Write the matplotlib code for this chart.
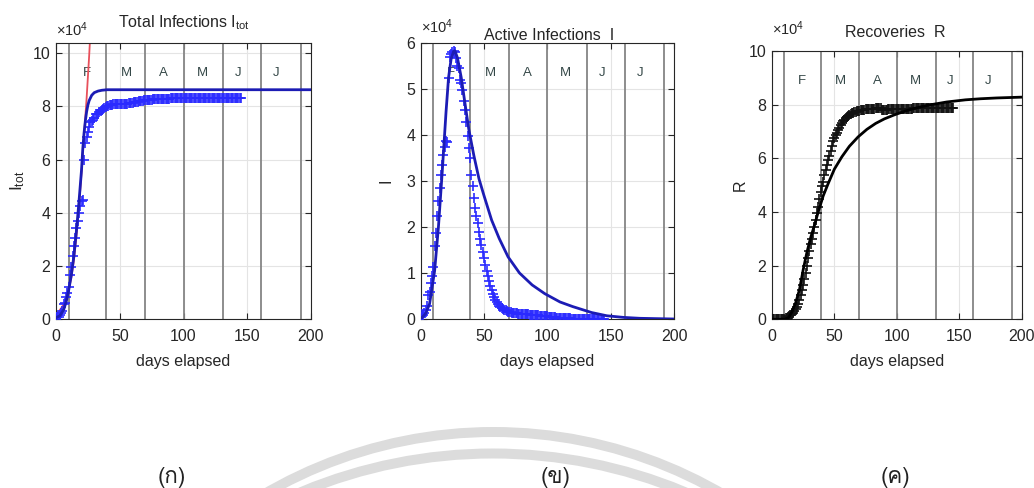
import matplotlib
matplotlib.use("Agg")
import matplotlib.pyplot as plt
import matplotlib.transforms as mtrans
from matplotlib import font_manager as fm
from matplotlib.ft2font import FT2Font
from matplotlib.patches import Circle
import numpy as np

# ---------------- data (units of 1e4) ----------------
tot_obs = [0.055, 0.064, 0.092, 0.141, 0.208, 0.288, 0.551, 0.609, 0.814, 0.980,
           1.189, 1.663, 1.972, 2.371, 2.744, 3.059, 3.411, 3.681, 3.983, 4.235,
           4.439, 4.476, 5.990, 6.636, 6.841, 7.051, 7.243, 7.421, 7.462, 7.508,
           7.555, 7.700, 7.702, 7.724, 7.775, 7.817, 7.860, 7.893, 7.936, 7.993,
           8.014, 8.026, 8.039, 8.054, 8.069, 8.077, 8.082, 8.086, 8.089, 8.092,
           8.093, 8.095, 8.098, 8.100, 8.103, 8.106, 8.110, 8.116, 8.125, 8.131,
           8.144, 8.150, 8.159, 8.166, 8.178, 8.190, 8.200, 8.212, 8.220, 8.228,
           8.236, 8.243, 8.250, 8.254, 8.258, 8.262, 8.264, 8.267, 8.270, 8.272,
           8.274, 8.276, 8.278, 8.280, 8.282, 8.284, 8.290, 8.293, 8.295, 8.297,
           8.300, 8.301, 8.302, 8.302, 8.303, 8.303, 8.304, 8.304, 8.305, 8.305,
           8.306, 8.306, 8.307, 8.307, 8.308, 8.308, 8.309, 8.309, 8.310, 8.310,
           8.311, 8.311, 8.312, 8.312, 8.313, 8.313, 8.314, 8.314, 8.315, 8.315,
           8.316, 8.316, 8.317, 8.317, 8.318, 8.318, 8.319, 8.319, 8.320, 8.320,
           8.321, 8.321, 8.322, 8.322, 8.323, 8.323, 8.324, 8.325, 8.326, 8.327,
           8.328, 8.329, 8.330, 8.331, 8.332, 8.333]
tot_model_days = [0, 3, 6, 8, 10, 12, 14, 16, 18, 19, 20, 21, 22, 23, 24, 25, 26,
                  28, 30, 33, 36, 40, 50, 200]
tot_model = [0.05, 0.12, 0.35, 0.65, 1.1, 1.65, 2.35, 3.3, 4.4, 5.0, 5.6, 6.4, 7.0,
             7.45, 7.8, 8.05, 8.22, 8.42, 8.52, 8.58, 8.61, 8.63, 8.63, 8.63]
exp_days = [0, 2, 4, 6, 8, 10, 12, 14, 16, 18, 20, 22, 24, 25, 26, 27]
exp_fit = [0.21, 0.28, 0.40, 0.55, 0.78, 1.10, 1.55, 2.20, 3.10, 4.20, 5.50, 6.90,
           8.30, 9.10, 9.90, 10.80]

act_obs = [0.050, 0.060, 0.086, 0.133, 0.197, 0.274, 0.528, 0.583, 0.784, 0.938,
           1.136, 1.581, 1.868, 2.237, 2.576, 2.848, 3.139, 3.341, 3.571, 3.743,
           3.864, 3.856, 5.231, 5.690, 5.759, 5.809, 5.820, 5.814, 5.665, 5.494,
           5.460, 5.205, 5.138, 4.976, 4.745, 4.536, 4.292, 3.981, 3.720, 3.490,
           3.140, 2.890, 2.640, 2.420, 2.250, 2.080, 1.900, 1.740, 1.600, 1.450,
           1.320, 1.180, 1.050, 0.930, 0.820, 0.720, 0.630, 0.550, 0.480, 0.420,
           0.370, 0.330, 0.290, 0.260, 0.240, 0.220, 0.200, 0.185, 0.170, 0.160,
           0.150, 0.145, 0.140, 0.135, 0.130, 0.125, 0.120, 0.118, 0.115, 0.112,
           0.110, 0.108, 0.105, 0.103, 0.100, 0.098, 0.095, 0.092, 0.090, 0.088,
           0.085, 0.082, 0.080, 0.077, 0.075, 0.072, 0.070, 0.067, 0.064, 0.060,
           0.056, 0.052, 0.048, 0.044, 0.040, 0.036, 0.033, 0.030, 0.027, 0.024,
           0.022, 0.020, 0.018, 0.016, 0.015, 0.014, 0.013, 0.012, 0.011, 0.010,
           0.010, 0.009, 0.009, 0.008, 0.008, 0.008, 0.007, 0.007, 0.007, 0.007,
           0.006, 0.006, 0.006, 0.006, 0.006, 0.005, 0.005, 0.005, 0.005, 0.005,
           0.005, 0.004, 0.004, 0.004, 0.004, 0.004]
act_model_days = [0, 4, 7, 11, 14, 17, 20, 22, 24, 26, 27, 29, 32, 35, 38, 42, 46,
                  50, 56, 62, 69, 78, 88, 98, 110, 120, 135, 147, 160, 173, 200]
act_model = [0.0, 0.12, 0.33, 1.05, 2.0, 3.2, 4.5, 5.25, 5.65, 5.82, 5.83, 5.68,
             5.25, 4.68, 4.12, 3.55, 3.05, 2.68, 2.15, 1.75, 1.35, 1.0, 0.74, 0.55,
             0.37, 0.27, 0.14, 0.07, 0.035, 0.015, 0.0]

rec_obs = [0.003, 0.003, 0.004, 0.004, 0.005, 0.006, 0.010, 0.012, 0.014, 0.021,
           0.028, 0.046, 0.061, 0.084, 0.112, 0.148, 0.200, 0.240, 0.300, 0.380,
           0.464, 0.560, 0.720, 0.900, 1.080, 1.280, 1.500, 1.720, 2.000, 2.300,
           2.550, 2.800, 3.000, 3.200, 3.450, 3.700, 3.950, 4.200, 4.500, 4.750,
           4.950, 5.100, 5.360, 5.560, 5.740, 5.920, 6.100, 6.280, 6.460, 6.640,
           6.760, 6.860, 6.960, 7.050, 7.140, 7.230, 7.310, 7.380, 7.440, 7.490,
           7.540, 7.580, 7.620, 7.650, 7.680, 7.700, 7.720, 7.740, 7.760, 7.770,
           7.780, 7.790, 7.800, 7.810, 7.815, 7.820, 7.825, 7.830, 7.835, 7.840,
           7.845, 7.850, 7.855, 7.860, 7.860, 7.865, 7.870, 7.870, 7.800, 7.800,
           7.810, 7.810, 7.810, 7.820, 7.820, 7.820, 7.820, 7.830, 7.830, 7.830,
           7.830, 7.830, 7.840, 7.840, 7.840, 7.840, 7.840, 7.850, 7.850, 7.850,
           7.850, 7.850, 7.850, 7.860, 7.860, 7.860, 7.860, 7.860, 7.860, 7.860,
           7.870, 7.870, 7.870, 7.870, 7.870, 7.870, 7.870, 7.870, 7.870, 7.870,
           7.870, 7.870, 7.870, 7.870, 7.880, 7.880, 7.880, 7.880, 7.880, 7.880,
           7.880, 7.880, 7.880, 7.880, 7.880, 7.880]
rec_model_days = [0, 10, 13, 16, 19, 22, 25, 28, 31, 34, 37, 41, 45, 50, 56, 62, 69,
                  76, 83, 90, 98, 106, 113, 125, 140, 155, 167, 180, 200]
rec_model = [0.0, 0.0, 0.05, 0.28, 0.62, 1.1, 1.85, 2.5, 3.05, 3.5, 4.0, 4.6, 5.06,
             5.6, 6.06, 6.45, 6.8, 7.08, 7.3, 7.47, 7.62, 7.75, 7.85, 7.98, 8.1,
             8.18, 8.22, 8.25, 8.28]

month_starts = [10, 39, 70, 100, 131, 161, 192]
month_labels = ["F", "M", "A", "M", "J", "J"]
month_label_x = [24, 55, 84.5, 114.5, 143, 173]
x_ticks = [0, 50, 100, 150, 200]
panel_tags = ["(ก)", "(ข)", "(ค)"]

# ---------------- fonts ----------------
names = {f.name for f in fm.fontManager.ttflist}
if "Liberation Sans Narrow" in names:
    BASE = "Liberation Sans Narrow"
    FS = 14
else:
    BASE = "Liberation Sans"
    FS = 11.5
plt.rcParams["font.family"] = [BASE, "DejaVu Sans"]
plt.rcParams["mathtext.fontset"] = "custom"
plt.rcParams["mathtext.rm"] = BASE
plt.rcParams["mathtext.it"] = BASE


def find_thai():
    for f in fm.fontManager.ttflist:
        try:
            if 0x0E01 in FT2Font(f.fname).get_charmap():
                return f.name
        except Exception:
            pass
    return None


thai = find_thai()
thai_family = ([thai] if thai else []) + ["DejaVu Sans"]

W, H = 1034, 488
fig = plt.figure(figsize=(W / 100, H / 100), dpi=100)

# background watermark arcs
bg = fig.add_axes([0, 0, 1, 1], zorder=-5)
bg.set_xlim(0, W)
bg.set_ylim(H, 0)
bg.axis("off")
bg.add_patch(Circle((493.5, 886), 454, fill=False, ec="#dcdcdc", lw=7.2))
bg.add_patch(Circle((493, 950.5), 497, fill=False, ec="#dcdcdc", lw=7.2))
for tag, tx in zip(panel_tags, [172, 556, 895]):
    bg.text(tx, 478, tag, ha="center", va="center", fontsize=16,
            family=thai_family, color="#222222")


def px_axes(l, t, r, b):
    return fig.add_axes([l / W, (H - b) / H, (r - l) / W, (b - t) / H])


TXT = "#262626"


def setup(ax, ylim, yticks, top_px, bottom_px):
    ax.set_xlim(0, 200)
    ax.set_ylim(*ylim)
    ax.set_xticks(x_ticks)
    ax.set_yticks(yticks)
    ax.grid(True, color="#e4e4e4", lw=0.8)
    ax.set_axisbelow(True)
    ax.tick_params(direction="in", top=True, right=True, length=4, width=0.8,
                   colors=TXT, labelsize=FS)
    ax.tick_params(axis="x", pad=7)
    ax.tick_params(axis="y", pad=4)
    for s in ax.spines.values():
        s.set_color(TXT)
        s.set_linewidth(0.8)
    for m in month_starts:
        ax.axvline(m, color="#858585", lw=1.3, zorder=1.5)
    tr = mtrans.blended_transform_factory(ax.transData, ax.transAxes)
    for lab, lx in zip(month_labels, month_label_x):
        ax.text(lx, 0.89, lab, transform=tr, ha="center", va="center",
                fontsize=FS - 2, color="#354848", zorder=1.6)
    ax.set_xlabel("days elapsed", fontsize=FS, color=TXT)
    hpx = bottom_px - top_px
    ax.xaxis.set_label_coords(0.5, -(354 - bottom_px) / hpx)


# Panel 1: total infections
ax1 = px_axes(56, 42.7, 311, 319)
setup(ax1, (0, 10.4), [0, 2, 4, 6, 8, 10], 42.7, 319)
ax1.plot(exp_days, exp_fit, "-", color="#e8505b", lw=1.3, zorder=2.5)
ax1.plot(np.arange(len(tot_obs)), tot_obs, "+", color="#2a2aff", ms=6.5, mew=1.2,
         zorder=3)
ax1.plot(tot_model_days, tot_model, "-", color="#1c1cb4", lw=2.0, zorder=4)
ax1.set_ylabel(r"I$_{\mathrm{tot}}$", fontsize=FS + 1, color=TXT)
ax1.yaxis.set_label_coords(-(56 - 27) / 255, 0.5)
ax1.text(0, 1 + 4 / 276.3, r"$\times$10$^{4}$", transform=ax1.transAxes,
         ha="left", va="bottom", fontsize=FS - 1, color=TXT)
fig.text(184 / W, 1 - 27 / H, r"Total Infections I$_{\mathrm{tot}}$", ha="center",
         va="baseline", fontsize=FS, color=TXT)

# Panel 2: active infections
ax2 = px_axes(420.7, 43, 674, 319)
setup(ax2, (0, 6), [0, 1, 2, 3, 4, 5, 6], 43, 319)
ax2.plot(np.arange(len(act_obs)), act_obs, "+", color="#2a2aff", ms=6.5, mew=1.2,
         zorder=3)
ax2.plot(act_model_days, act_model, "-", color="#1c1cb4", lw=2.0, zorder=4)
ax2.set_ylabel("I", fontsize=FS, color=TXT)
ax2.yaxis.set_label_coords(-(420.7 - 394) / 253.3, 0.5)
ax2.text(0, 1 + 7 / 276, r"$\times$10$^{4}$", transform=ax2.transAxes,
         ha="left", va="bottom", fontsize=FS - 1, color=TXT)
fig.text(549 / W, 1 - 40 / H, "Active Infections  I", ha="center",
         va="baseline", fontsize=FS, color=TXT)

# Panel 3: recoveries
ax3 = px_axes(772, 51, 1021.7, 319.3)
setup(ax3, (0, 10), [0, 2, 4, 6, 8, 10], 51, 319.3)
ax3.plot(np.arange(len(rec_obs)), rec_obs, "+", color="#111111", ms=6.5, mew=1.2,
         zorder=3)
ax3.plot(rec_model_days, rec_model, "-", color="#000000", lw=2.0, zorder=4)
ax3.set_ylabel("R", fontsize=FS, color=TXT)
ax3.yaxis.set_label_coords(-(772 - 748) / 249.7, 0.5)
ax3.text(0, 1 + 13 / 268.3, r"$\times$10$^{4}$", transform=ax3.transAxes,
         ha="left", va="bottom", fontsize=FS - 1, color=TXT)
fig.text(895.5 / W, 1 - 36.7 / H, "Recoveries  R", ha="center",
         va="baseline", fontsize=FS, color=TXT)

fig.savefig("out.png", dpi=100)
